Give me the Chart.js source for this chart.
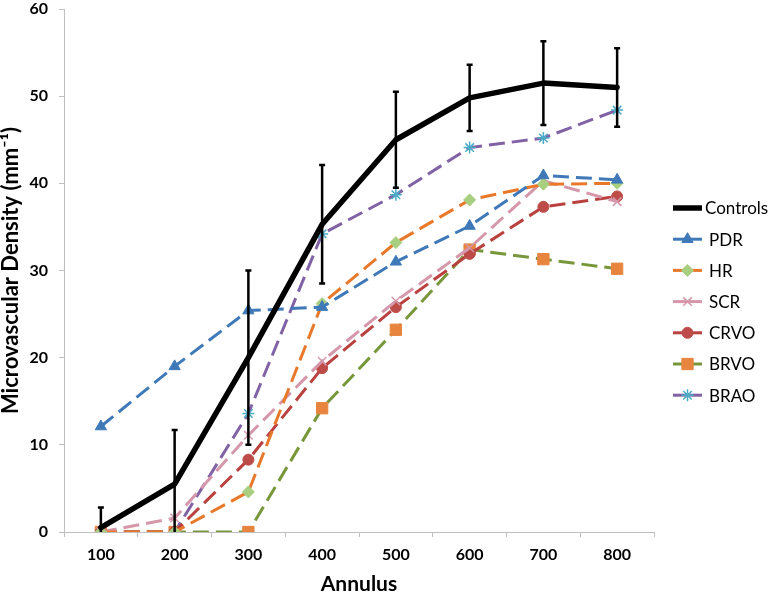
<!DOCTYPE html>
<html>
<head>
<meta charset="utf-8">
<script src="https://cdn.jsdelivr.net/npm/chart.js@4/dist/chart.umd.min.js"></script>
<style>
html,body{margin:0;padding:0;background:#fff;}
canvas{display:block;}
</style>
</head>
<body>
<canvas id="c" width="774" height="595"></canvas>
<script>
const annulus = ['100','200','300','400','500','600','700','800'];
const controls = [0.5, 5.5, 20.0, 35.3, 45.0, 49.8, 51.5, 51.0];
const controlsErr = [2.3, 6.2, 10.0, 6.8, 5.5, 3.8, 4.8, 4.5];
const pdr  = [12.1, 19.0, 25.4, 25.8, 31.0, 35.1, 40.9, 40.4];
const hr   = [0, 0, 4.6, 26.2, 33.2, 38.1, 39.9, 40.0];
const scr  = [0, 1.6, 11.1, 19.6, 26.5, 32.6, 40.3, 37.9];
const crvo = [0, 0, 8.3, 18.8, 25.8, 31.9, 37.3, 38.5];
const brvo = [0, 0, 0, 14.2, 23.2, 32.4, 31.3, 30.2];
const brao = [0, 0, 13.6, 34.2, 38.7, 44.1, 45.2, 48.4];
const yTicks = {min: 0, max: 60, step: 10};

const FONT = "Lato, 'Open Sans', 'Liberation Sans', sans-serif";
const DASH = [16, 7];

function ds(label, data, line, marker, style, radius, extra) {
  return Object.assign({
    label: label, data: data,
    borderColor: line, backgroundColor: marker,
    borderWidth: 3, borderDash: DASH,
    pointStyle: style, pointRadius: radius, pointHoverRadius: radius,
    pointBackgroundColor: marker, pointBorderColor: marker, pointBorderWidth: 1,
    tension: 0, fill: false
  }, extra || {});
}

const datasets = [
  {label: 'Controls', data: controls, borderColor: '#000', backgroundColor: '#000',
   borderWidth: 5.5, pointRadius: 0, pointHoverRadius: 0, tension: 0, fill: false, borderCapStyle: 'round', borderJoinStyle: 'round'},
  ds('PDR', pdr, '#3f79b8', '#3f79b8', 'triangle', 6.5),
  ds('HR', hr, '#e8792b', '#a8cf80', 'rectRot', 6),
  ds('SCR', scr, '#d597aa', '#d597aa', 'crossRot', 6, {pointBorderWidth: 1.5}),
  ds('CRVO', crvo, '#b9413f', '#bd4b48', 'circle', 5.5),
  ds('BRVO', brvo, '#77973a', '#e7853f', 'rect', 8),
  ds('BRAO', brao, '#8062a5', '#4cacc8', 'star', 6, {pointBorderWidth: 1.5})
];

const errorBars = {
  id: 'errorBars',
  afterDatasetsDraw(chart) {
    const ctx = chart.ctx, ys = chart.scales.y, xs = chart.scales.x, a = chart.chartArea;
    ctx.save();
    ctx.beginPath();
    ctx.rect(a.left, a.top - 10, a.right - a.left, a.bottom - a.top + 10);
    ctx.clip();
    ctx.strokeStyle = '#000';
    ctx.lineWidth = 2.5;
    controls.forEach((v, i) => {
      const x = xs.getPixelForValue(i);
      const top = ys.getPixelForValue(v + controlsErr[i]);
      const bot = ys.getPixelForValue(Math.max(v - controlsErr[i], 0));
      ctx.beginPath();
      ctx.moveTo(x, top); ctx.lineTo(x, bot);
      ctx.moveTo(x - 3, top); ctx.lineTo(x + 3, top);
      if (v - controlsErr[i] > 0) { ctx.moveTo(x - 3, bot); ctx.lineTo(x + 3, bot); }
      ctx.stroke();
    });
    ctx.restore();
  }
};

function drawMarker(ctx, d, x, y) {
  const opts = {pointStyle: d.pointStyle, radius: d.pointRadius, borderWidth: d.pointBorderWidth, rotation: 0};
  ctx.fillStyle = d.pointBackgroundColor;
  ctx.strokeStyle = d.pointBorderColor;
  ctx.lineWidth = d.pointBorderWidth;
  ctx.setLineDash([]);
  if (Chart.helpers && Chart.helpers.drawPoint) {
    Chart.helpers.drawPoint(ctx, opts, x, y);
  }
}

const customLegend = {
  id: 'customLegend',
  afterDraw(chart) {
    const ctx = chart.ctx, a = chart.chartArea;
    const x0 = a.right + 19, x1 = a.right + 48, xt = a.right + 51;
    const y0 = 208, gap = 31.2;
    ctx.save();
    chart.data.datasets.forEach((d, i) => {
      const y = y0 + i * gap;
      ctx.setLineDash([]);
      ctx.strokeStyle = d.borderColor;
      ctx.lineWidth = d.borderWidth;
      ctx.lineCap = 'butt';
      ctx.beginPath();
      ctx.moveTo(x0, y); ctx.lineTo(x1, y);
      ctx.stroke();
      if (d.pointRadius > 0) drawMarker(ctx, d, (x0 + x1) / 2, y);
      ctx.fillStyle = '#000';
      ctx.font = '17px ' + FONT;
      ctx.textBaseline = 'middle';
      ctx.textAlign = 'left';
      ctx.fillText(d.label, i === 0 ? xt : xt + 4, y + 1);
    });
    ctx.restore();
  }
};

new Chart(document.getElementById('c'), {
  type: 'line',
  data: {labels: annulus, datasets: datasets},
  options: {
    responsive: false,
    animation: false,
    events: [],
    layout: {padding: {top: 7, right: 120, left: 0, bottom: 0}},
    plugins: {legend: {display: false}, tooltip: {enabled: false}},
    scales: {
      x: {
        type: 'category', offset: true,
        grid: {drawOnChartArea: false, tickLength: 5, color: '#bfbfbf', offset: true},
        border: {color: '#bfbfbf', width: 1},
        ticks: {font: {family: FONT, size: 16, weight: 'bold'}, color: '#000', padding: 8, maxRotation: 0},
        title: {display: true, text: 'Annulus', font: {family: FONT, size: 21, weight: 'bold'}, color: '#000', padding: {top: 4, bottom: -2}},
        afterFit(s) { s.height = 63; }
      },
      y: {
        min: yTicks.min, max: yTicks.max,
        grid: {drawOnChartArea: false, tickLength: 5, color: '#bfbfbf'},
        border: {color: '#bfbfbf', width: 1},
        ticks: {stepSize: yTicks.step, font: {family: FONT, size: 16, weight: 'bold'}, color: '#000', padding: 11},
        title: {display: true, text: 'Microvascular Density (mm\u207B\u00B9)', font: {family: FONT, size: 22, weight: 'bold'}, color: '#000', padding: {top: -2, bottom: 4}},
        afterFit(s) { s.width = 64; s.paddingTop = 0; s.paddingBottom = 0; }
      }
    }
  },
  plugins: [errorBars, customLegend]
});
</script>
</body>
</html>
